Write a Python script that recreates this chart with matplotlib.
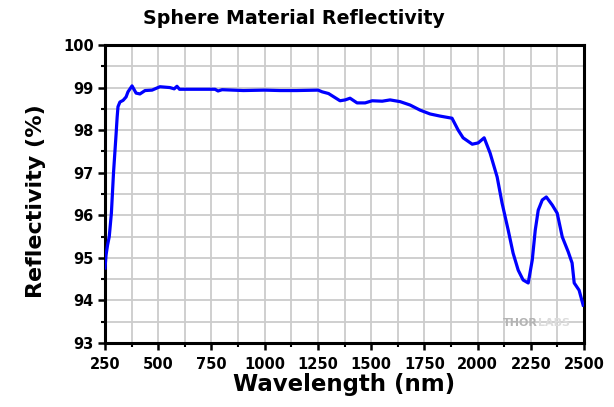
import numpy as np
import matplotlib.pyplot as plt
from matplotlib.ticker import MultipleLocator

plt.rcParams['font.family'] = ['DejaVu Sans']
plt.rcParams['font.weight'] = 'bold'

# reflectivity curve of the sphere coating (nm, %)
wavelength = [250, 255, 262, 270, 280, 290, 302, 307, 311, 320, 335, 349, 358, 377,
              396, 414, 438, 471, 508, 555, 575, 588, 600, 700, 767, 781, 800,
              900, 1000, 1072, 1150, 1251, 1270, 1300, 1354, 1378, 1401, 1434,
              1472, 1505, 1552, 1589, 1636, 1683, 1730, 1777, 1824, 1880, 1909,
              1932, 1975, 2003, 2031, 2059, 2092, 2115, 2144, 2167, 2191, 2214,
              2238, 2257, 2271, 2285, 2304, 2323, 2351, 2374, 2398, 2426, 2444,
              2454, 2477, 2496]
reflectivity = [94.76, 95.07, 95.3, 95.5, 96.05, 97.0, 97.9, 98.3, 98.55, 98.66,
                98.7, 98.78, 98.9, 99.04, 98.87, 98.85, 98.93, 98.94, 99.02, 99.0,
                98.97, 99.03, 98.96, 98.96, 98.96, 98.92, 98.95, 98.93, 98.94,
                98.93, 98.93, 98.94, 98.9, 98.86, 98.69, 98.71, 98.75, 98.64,
                98.64, 98.69, 98.68, 98.71, 98.67, 98.59, 98.47, 98.38, 98.33,
                98.28, 98.0, 97.82, 97.67, 97.7, 97.82, 97.46, 96.9, 96.29, 95.65,
                95.11, 94.71, 94.48, 94.41, 94.95, 95.65, 96.12, 96.36, 96.43,
                96.24, 96.05, 95.49, 95.14, 94.88, 94.41, 94.24, 93.89]

x_ticks = [250, 500, 750, 1000, 1250, 1500, 1750, 2000, 2250, 2500]
y_ticks = [93, 94, 95, 96, 97, 98, 99, 100]

fig = plt.figure(figsize=(6.14, 4.07), dpi=100)
ax = fig.add_axes([105/614, 1 - 343/407, 479/614, 298/407])

ax.plot(wavelength, reflectivity, color='#0000ff', lw=2.3, zorder=3)

ax.set_xlim(250, 2500)
ax.set_ylim(93, 100)
ax.set_xticks(x_ticks)
ax.set_yticks(y_ticks)
ax.xaxis.set_minor_locator(MultipleLocator(125))
ax.yaxis.set_minor_locator(MultipleLocator(0.5))
ax.grid(True, which='both', color='#cccccc', lw=1.3, zorder=0)
ax.set_axisbelow(True)

for s in ax.spines.values():
    s.set_linewidth(2.2)
ax.tick_params(which='major', direction='out', length=5, width=1.8, labelsize=10.5)
ax.tick_params(axis='x', which='major', pad=5)
ax.tick_params(axis='y', which='major', pad=3)
ax.tick_params(which='minor', direction='out', length=3, width=1.5)

fig.text(294/614, 1 - 18/407, 'Sphere Material Reflectivity', ha='center', va='center',
         fontsize=13.7, fontweight='bold')
ax.set_xlabel('Wavelength (nm)', fontsize=16.5, fontweight='bold', labelpad=1)
ax.set_ylabel('Reflectivity (%)', fontsize=16, fontweight='bold')
ax.yaxis.set_label_coords(-0.123, 0.475)

ax.text(0.904, 0.067, 'THOR', transform=ax.transAxes, ha='right', va='center',
        fontsize=8, fontweight='bold', color='#b4b4b4')
ax.text(0.904, 0.067, 'LABS', transform=ax.transAxes, ha='left', va='center',
        fontsize=8, fontweight='bold', color='#dcdcdc')

fig.savefig('out.png', dpi=100)
